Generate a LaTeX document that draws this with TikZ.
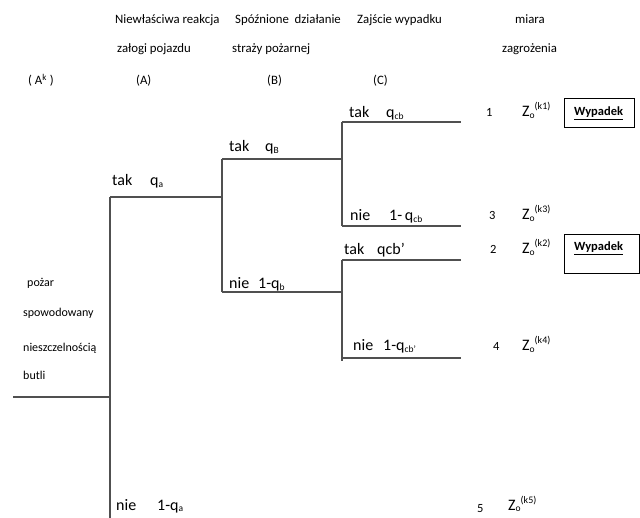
\documentclass[tikz,border=0pt]{standalone}
\usepackage{fontspec}
\setmainfont{Carlito}
\definecolor{linegray}{HTML}{505050}
\newcommand{\lowsub}[1]{\raisebox{-1.5pt}{\fontsize{9.5}{9.5}\selectfont #1}}
\newcommand{\hisup}[1]{\raisebox{7pt}{\fontsize{10}{10}\selectfont #1}}
\begin{document}
\begin{tikzpicture}[x=1pt,y=-1pt,
  hdr/.style={anchor=base west,inner sep=0pt,font=\fontsize{12.8}{12.8}\selectfont},
  side/.style={anchor=base west,inner sep=0pt,font=\fontsize{12}{12}\selectfont},
  lbl/.style={anchor=base west,inner sep=0pt,font=\fontsize{16}{16}\selectfont},
  num/.style={anchor=base west,inner sep=0pt,font=\fontsize{12.5}{12.5}\selectfont},
  branch/.style={draw=linegray,line width=1.3pt},
  boxnode/.style={draw=black,line width=1pt,inner sep=0pt,rectangle},
  boxtext/.style={anchor=base west,inner sep=0pt,font=\fontsize{12.5}{12.5}\selectfont\bfseries}]
\useasboundingbox (0,0) rectangle (640,518);
% header
\node[hdr] (h1) at (115,24) {Niewłaściwa reakcja};
\node[hdr] (h2) at (117,53) {załogi pojazdu};
\node[hdr] (h3) at (235,24) {Spóźnione\ \ działanie};
\node[hdr] (h4) at (232,53) {straży\ pożarnej};
\node[hdr] (h5) at (357,24) {Zajście wypadku};
\node[hdr] (h6) at (515,24) {miara};
\node[hdr] (h7) at (502,53) {zagrożenia};
\node[hdr] (hAk) at (28,85) {(\ A\textsuperscript{k}\ )};
\node[hdr] (hA) at (136,85) {(A)};
\node[hdr] (hB) at (267,85) {(B)};
\node[hdr] (hC) at (373,85) {(C)};
% left label
\node[side] (l1) at (27,287) {pożar};
\node[side] (l2) at (23,317) {spowodowany};
\node[side] (l3) at (23,352) {nieszczelnością};
\node[side] (l4) at (23,380) {butli};
% tree points
\coordinate (s0) at (13,397);
\coordinate (a0) at (110,397);
\coordinate (aT) at (110,197);
\coordinate (aB) at (110,518);
\coordinate (bT) at (222,197);
\coordinate (b1) at (222,159);
\coordinate (b2) at (222,292);
\coordinate (c1) at (342,159);
\coordinate (c2) at (342,292);
\coordinate (c1t) at (342,122);
\coordinate (c1b) at (342,226);
\coordinate (c2t) at (342,260);
\coordinate (c2b) at (342,361);
\coordinate (c2n) at (342,358);
\coordinate (e1) at (461,122);
\coordinate (e3) at (461,226);
\coordinate (e2) at (461,260);
\coordinate (e4) at (461,358);
\draw[branch] (s0) -- (a0);
\draw[branch] (aT) -- (aB);
\draw[branch] (aT) -- (bT);
\draw[branch] (b1) -- (b2);
\draw[branch] (b1) -- (c1);
\draw[branch] (b2) -- (c2);
\draw[branch] (c1t) -- (c1b);
\draw[branch] (c2t) -- (c2b);
\draw[branch] (c1t) -- (e1);
\draw[branch] (c1b) -- (e3);
\draw[branch] (c2t) -- (e2);
\draw[branch] (c2n) -- (e4);
% branch labels
\node[lbl] (t1) at (112,186) {tak};
\node[lbl] (q1) at (150,186) {q\lowsub{a}};
\node[lbl] (t2) at (229,152) {tak};
\node[lbl] (q2) at (265,152) {q\lowsub{B}};
\node[lbl] (t3) at (349,118) {tak};
\node[lbl] (q3) at (386,118) {q\lowsub{cb}};
\node[lbl] (n3) at (350,221) {nie};
\node[lbl] (p3) at (389,221) {1-\,q\lowsub{cb}};
\node[lbl] (t4) at (344,255) {tak};
\node[lbl] (q4) at (377,255) {qcb’};
\node[lbl] (n2) at (229,289) {nie};
\node[lbl] (p2) at (258,289) {1-q\lowsub{b}};
\node[lbl] (n4) at (353,351) {nie};
\node[lbl] (p4) at (383,351) {1-q\lowsub{cb’}};
\node[lbl] (n1) at (116,510) {nie};
\node[lbl] (p1) at (157,510) {1-q\lowsub{a}};
% outcomes
\node[num] (o1) at (486,117) {1};
\node[num] (o3) at (489,220) {3};
\node[num] (o2) at (490,254) {2};
\node[num] (o4) at (493,351) {4};
\node[num] (o5) at (477,512) {5};
\node[lbl] (z1) at (522,117) {Z\lowsub{o}\hisup{(k1)}};
\node[lbl] (z3) at (522,220) {Z\lowsub{o}\hisup{(k3)}};
\node[lbl] (z2) at (522,254) {Z\lowsub{o}\hisup{(k2)}};
\node[lbl] (z4) at (522,351) {Z\lowsub{o}\hisup{(k4)}};
\node[lbl] (z5) at (508,510) {Z\lowsub{o}\hisup{(k5)}};
% boxes
\node[boxnode,minimum width=70pt,minimum height=29pt] (w1) at (599,113.5) {};
\node[boxnode,minimum width=75pt,minimum height=39pt] (w2) at (601.5,254.5) {};
\node[boxtext] (w1t) at (574,116) {\underline{Wypadek}};
\node[boxtext] (w2t) at (574,251) {\underline{Wypadek}};
\end{tikzpicture}
\end{document}
